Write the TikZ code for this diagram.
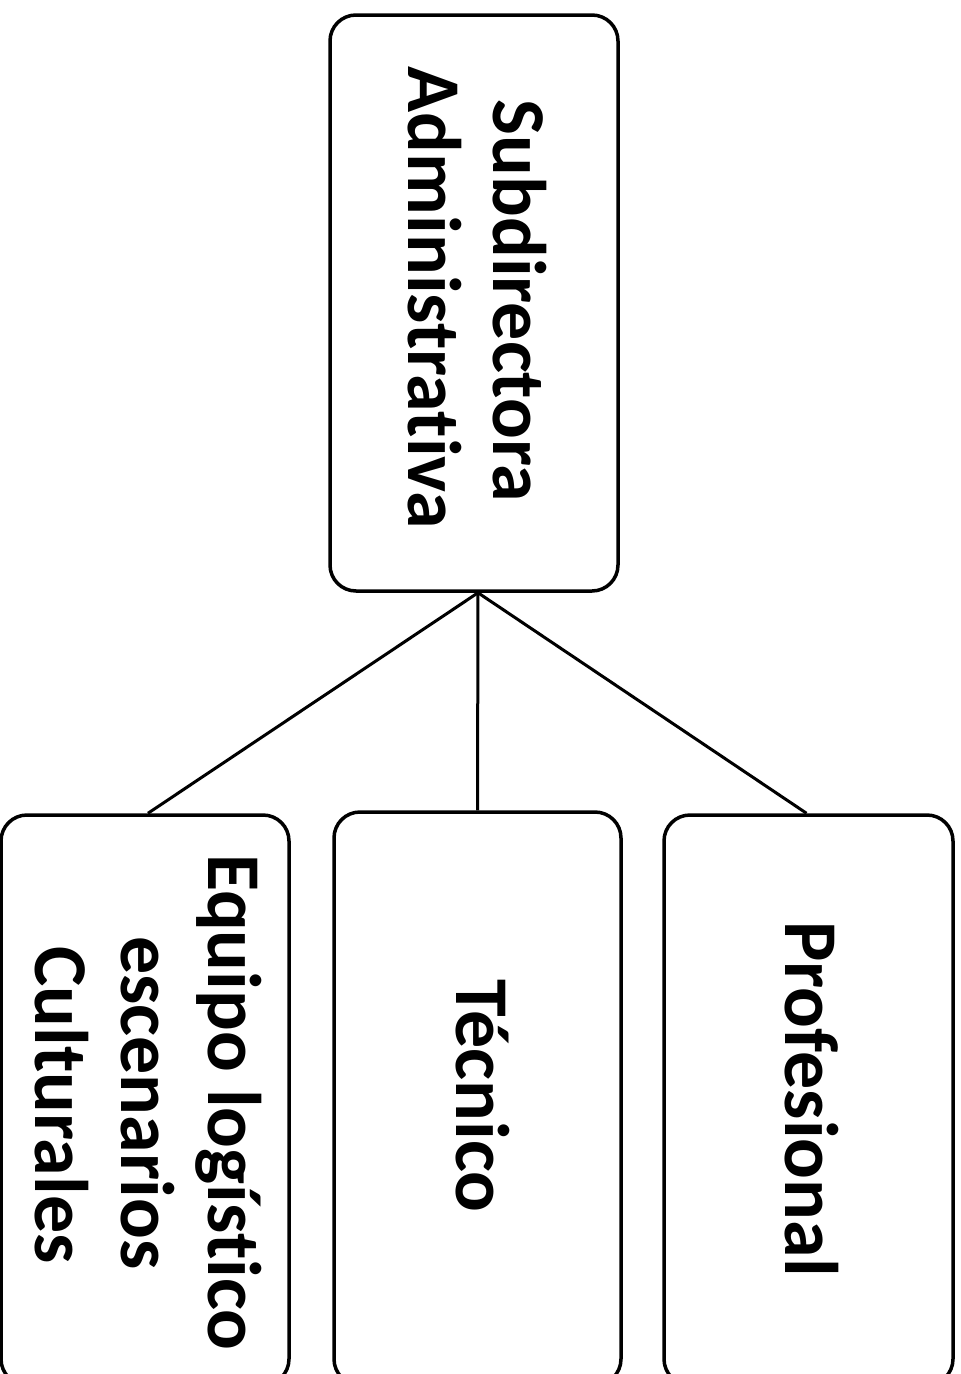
\documentclass[tikz,border=0pt]{standalone}
\usepackage{fontspec}
\setmainfont{Carlito}[Ligatures=NoCommon, RawFeature={-liga}]
\begin{document}
\begin{tikzpicture}[x=1pt,y=-1pt,
  box/.style={draw=black, line width=3.5pt, rounded corners=26pt, inner sep=0pt, fill=white},
  lbl/.style={rotate=-90, anchor=base, inner sep=0pt, font=\fontsize{76}{90}\selectfont\bfseries},
  link/.style={draw=black, line width=3pt}]
\useasboundingbox (0,0) rectangle (961,1374);
\fill[white] (0,0) rectangle (961,1374);
% boxes
\node[box, minimum width=288pt, minimum height=576pt] (top) at (474,303) {};
\node[box, minimum width=288pt, minimum height=570pt] (left) at (145,1100) {};
\node[box, minimum width=287pt, minimum height=573pt] (mid) at (477.5,1098.5) {};
\node[box, minimum width=289pt, minimum height=570pt] (right) at (808.5,1100) {};
% connectors
\coordinate (apex) at ([xshift=4pt]top.south);
\draw[link] (apex) -- ([xshift=3pt]left.north);
\draw[link] (apex) -- (mid.north);
\draw[link] (apex) -- ([xshift=-2pt]right.north);
% texts
\node[lbl] (t1) at (493,301) {Subdirectora};
\node[lbl] (t2) at (408,298) {Administrativa};
\node[lbl] (l1) at (208,1102) {Equipo logístico};
\node[lbl] (l2) at (121,1103) {escenarios};
\node[lbl] (l3) at (35,1105) {Culturales};
\node[lbl] (m1) at (456,1096) {Técnico};
\node[lbl] (r1) at (785,1099) {Profesional};
\end{tikzpicture}
\end{document}
